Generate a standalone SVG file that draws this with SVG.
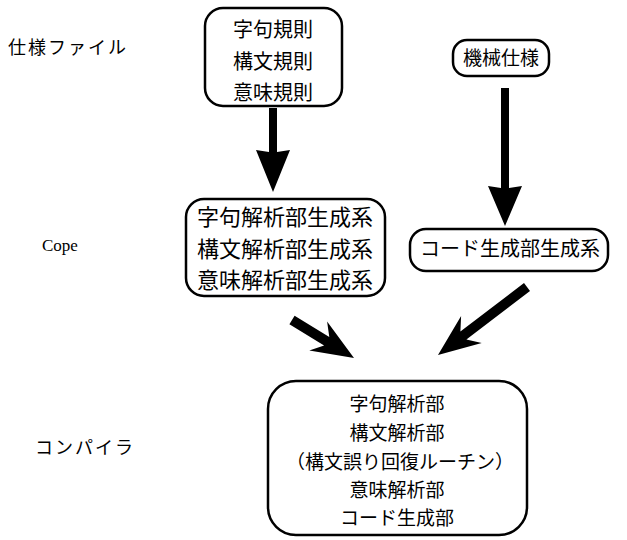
<svg xmlns="http://www.w3.org/2000/svg" width="627" height="540" viewBox="0 0 627 540">
<style>
.box{fill:#fff;stroke:#000;stroke-width:2.5}
.t{font-family:"Noto Sans CJK JP","Noto Sans",sans-serif;fill:#000;text-anchor:middle}
.lbl{font-family:"Noto Sans CJK JP","Noto Sans",sans-serif;fill:#000;font-size:18px}
.arr{fill:#000;stroke:none}
</style>
<rect width="627" height="540" fill="#fff"/>
<g id="labels">
<text class="lbl" x="8" y="54" letter-spacing="2">仕様ファイル</text>
<text x="42" y="251" font-family="Liberation Serif,serif" font-size="17">Cope</text>
<text class="lbl" x="35" y="454" letter-spacing="2">コンパイラ</text>
</g>
<g id="connectors">
<polygon class="arr" points="269,108 277,108 277,152 290,150 273,192 256,150 269,152"/>
<polygon class="arr" points="501,88 509,88 509,188 522,186 505,226 488,186 501,188"/>
<polygon class="arr" points="294.6,315.7 329.3,337 327.1,321.5 354,358 309.3,350.5 324.1,345.6 289.4,324.3"/>
<polygon class="arr" points="524,283 460.4,331.6 461.1,316 438,355 481.7,343 466.4,339.6 530,291"/>
</g>
<g id="spec">
<rect class="box" x="205" y="8" width="137" height="98" rx="18"/>
<text class="t" x="273" y="37" font-size="20">字句規則</text>
<text class="t" x="273" y="69" font-size="20">構文規則</text>
<text class="t" x="273" y="100" font-size="20">意味規則</text>
</g>
<g id="machine">
<rect class="box" x="453" y="40" width="96" height="36" rx="14"/>
<text class="t" x="501" y="65" font-size="19">機械仕様</text>
</g>
<g id="gen">
<rect class="box" x="186" y="199" width="199" height="97" rx="18"/>
<text class="t" x="285" y="225" font-size="22">字句解析部生成系</text>
<text class="t" x="285" y="257" font-size="22">構文解析部生成系</text>
<text class="t" x="285" y="288" font-size="22">意味解析部生成系</text>
</g>
<g id="codegen">
<rect class="box" x="410" y="229" width="198" height="42" rx="16"/>
<text class="t" x="510" y="256" font-size="20">コード生成部生成系</text>
</g>
<g id="compiler">
<rect class="box" x="268" y="381" width="259" height="154" rx="28"/>
<text class="t" x="397" y="411" font-size="19">字句解析部</text>
<text class="t" x="397" y="440" font-size="19">構文解析部</text>
<text class="t" x="400" y="469" font-size="19">（構文誤り回復ルーチン）</text>
<text class="t" x="397" y="497" font-size="19">意味解析部</text>
<text class="t" x="397" y="525" font-size="19">コード生成部</text>
</g>
</svg>
